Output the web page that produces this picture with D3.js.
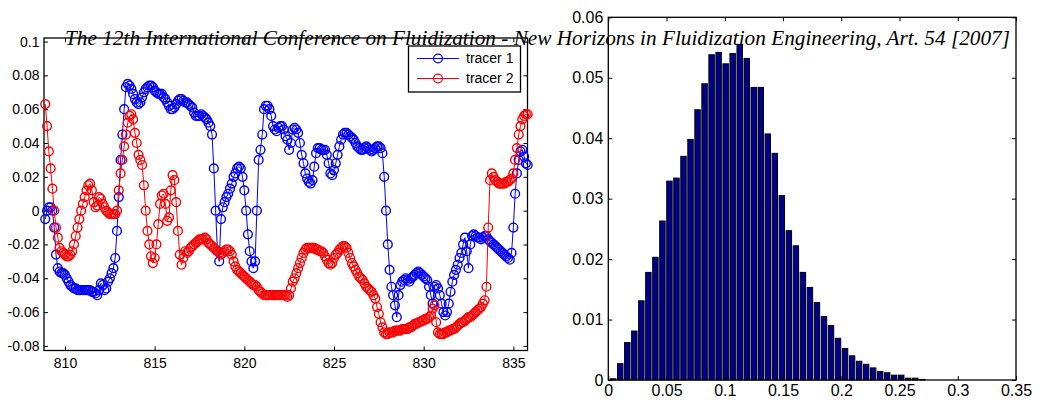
<!DOCTYPE html>
<html>
<head>
<meta charset="utf-8">
<script src="https://cdn.jsdelivr.net/npm/d3@7"></script>
<style>
  body { margin: 0; background: #fff; }
</style>
</head>
<body>
<svg id="chart" width="1037" height="402"></svg>
<script>
// sampled tracer positions, one value every dt seconds from t0
const t0 = 808.9, dt = 0.1;

const tracer1 = [
  -0.005,
  0.000, 0.002, 0.002, 0.000, -0.010, -0.026, -0.034, -0.036, -0.037, -0.037,
  -0.038, -0.040, -0.042, -0.044, -0.045, -0.046, -0.046, -0.047, -0.047, -0.047,
  -0.047, -0.047, -0.047, -0.047, -0.047, -0.048, -0.048, -0.049, -0.050, -0.047,
  -0.043, -0.044, -0.047, -0.046, -0.042, -0.040, -0.037, -0.034, -0.028, -0.012,
  0.008, 0.030, 0.045, 0.060, 0.073, 0.075, 0.074, 0.072, 0.069, 0.066,
  0.064, 0.063, 0.064, 0.067, 0.070, 0.072, 0.073, 0.074, 0.074, 0.073,
  0.071, 0.070, 0.069, 0.069, 0.069, 0.067, 0.066, 0.064, 0.062, 0.060,
  0.060, 0.061, 0.063, 0.065, 0.066, 0.066, 0.065, 0.064, 0.064, 0.063,
  0.062, 0.061, 0.058, 0.056, 0.056, 0.056, 0.057, 0.056, 0.055, 0.054,
  0.052, 0.050, 0.045, 0.025, 0.000, -0.024, -0.030, -0.005, 0.002, 0.005,
  0.008, 0.010, 0.013, 0.016, 0.020, 0.022, 0.025, 0.026, 0.025, 0.020,
  0.012, 0.000, -0.014, -0.024, -0.030, -0.034, -0.030, 0.000, 0.030, 0.036,
  0.045, 0.060, 0.062, 0.062, 0.060, 0.056, 0.050, 0.048, 0.047, 0.049,
  0.050, 0.050, 0.048, 0.044, 0.042, 0.036, 0.040, 0.048, 0.049, 0.048,
  0.046, 0.040, 0.033, 0.028, 0.022, 0.019, 0.017, 0.016, 0.018, 0.026,
  0.034, 0.037, 0.037, 0.036, 0.036, 0.036, 0.033, 0.028, 0.022, 0.021,
  0.024, 0.028, 0.033, 0.038, 0.042, 0.045, 0.046, 0.046, 0.045, 0.044,
  0.043, 0.042, 0.040, 0.038, 0.037, 0.036, 0.036, 0.037, 0.038, 0.037,
  0.036, 0.035, 0.036, 0.037, 0.038, 0.038, 0.037, 0.034, 0.020, 0.000,
  -0.020, -0.035, -0.045, -0.050, -0.056, -0.063, -0.050, -0.044, -0.042, -0.041,
  -0.040, -0.041, -0.042, -0.040, -0.039, -0.038, -0.037, -0.036, -0.037, -0.038,
  -0.039, -0.040, -0.041, -0.045, -0.050, -0.055, -0.045, -0.044, -0.046, -0.050,
  -0.055, -0.060, -0.062, -0.060, -0.055, -0.048, -0.042, -0.038, -0.035, -0.032,
  -0.028, -0.025, -0.020, -0.016, -0.024, -0.034, -0.020, -0.015, -0.014, -0.015,
  -0.016, -0.016, -0.017, -0.016, -0.015, -0.015, -0.017, -0.018, -0.019, -0.020,
  -0.021, -0.022, -0.023, -0.024, -0.025, -0.026, -0.027, -0.028, -0.029, -0.025,
  -0.010, 0.010, 0.022, 0.030, 0.035, 0.036, 0.032, 0.028, 0.027
];

const tracer2 = [
  0.063,
  0.050, 0.035, 0.025, 0.013, 0.000, -0.010, -0.016, -0.022, -0.024, -0.025,
  -0.026, -0.027, -0.027, -0.026, -0.024, -0.020, -0.015, -0.010, -0.005, 0.000,
  0.004, 0.008, 0.012, 0.015, 0.016, 0.012, 0.005, 0.002, 0.003, 0.008,
  0.007, 0.004, 0.002, 0.000, -0.001, -0.002, -0.002, -0.002, -0.002, 0.000,
  0.012, 0.022, 0.030, 0.038, 0.045, 0.052, 0.056, 0.057, 0.054, 0.046,
  0.040, 0.033, 0.030, 0.027, 0.015, 0.000, -0.012, -0.020, -0.027, -0.031,
  -0.028, -0.020, -0.008, 0.004, 0.009, 0.010, 0.004, -0.006, -0.004, 0.012,
  0.021, 0.018, 0.005, -0.012, -0.026, -0.032, -0.028, -0.024, -0.025, -0.024,
  -0.022, -0.021, -0.020, -0.019, -0.018, -0.017, -0.017, -0.017, -0.016, -0.017,
  -0.019, -0.020, -0.021, -0.022, -0.023, -0.024, -0.025, -0.026, -0.025, -0.024,
  -0.023, -0.023, -0.024, -0.026, -0.030, -0.033, -0.035, -0.036, -0.037, -0.038,
  -0.039, -0.040, -0.041, -0.042, -0.043, -0.044, -0.044, -0.045, -0.047, -0.048,
  -0.049, -0.050, -0.050, -0.050, -0.050, -0.050, -0.050, -0.050, -0.050, -0.050,
  -0.050, -0.050, -0.050, -0.050, -0.051, -0.050, -0.046, -0.042, -0.040, -0.037,
  -0.034, -0.031, -0.028, -0.025, -0.023, -0.022, -0.022, -0.022, -0.022, -0.022,
  -0.023, -0.023, -0.024, -0.024, -0.025, -0.027, -0.029, -0.031, -0.032, -0.031,
  -0.028, -0.026, -0.025, -0.023, -0.022, -0.021, -0.021, -0.022, -0.025, -0.028,
  -0.031, -0.033, -0.035, -0.037, -0.039, -0.040, -0.041, -0.043, -0.045, -0.046,
  -0.047, -0.048, -0.050, -0.052, -0.057, -0.061, -0.066, -0.069, -0.072, -0.073,
  -0.073, -0.072, -0.072, -0.072, -0.071, -0.071, -0.071, -0.071, -0.070, -0.070,
  -0.070, -0.070, -0.069, -0.069, -0.068, -0.067, -0.067, -0.066, -0.066, -0.065,
  -0.065, -0.064, -0.064, -0.063, -0.062, -0.058, -0.056, -0.066, -0.072, -0.073,
  -0.073, -0.073, -0.072, -0.072, -0.071, -0.071, -0.070, -0.070, -0.069, -0.068,
  -0.067, -0.066, -0.066, -0.065, -0.064, -0.063, -0.063, -0.062, -0.061, -0.060,
  -0.059, -0.058, -0.057, -0.055, -0.053, -0.045, -0.010, 0.018, 0.022, 0.020,
  0.018, 0.017, 0.016, 0.016, 0.016, 0.016, 0.017, 0.017, 0.018, 0.019,
  0.022, 0.030, 0.037, 0.045, 0.050, 0.054, 0.056, 0.057, 0.057
];

const seriesNames = ["tracer 1", "tracer 2"];
const timeTicks = [810, 815, 820, 825, 830, 835];
const posTicks = [0.1, 0.08, 0.06, 0.04, 0.02, 0, -0.02, -0.04, -0.06, -0.08];

// histogram: equal-width bins starting at binStart
const binStart = 0.0015, binWidth = 0.00603;
const binFreq = [
  0.0002, 0.0027, 0.0062, 0.0081, 0.0131, 0.0178, 0.0203, 0.0263, 0.0329, 0.0334,
  0.0370, 0.0398, 0.0447, 0.0490, 0.0538, 0.0542, 0.0523, 0.0540, 0.0555, 0.0532,
  0.0484, 0.0484, 0.0407, 0.0375, 0.0305, 0.0247, 0.0222, 0.0178, 0.0153, 0.0128,
  0.0105, 0.0090, 0.0069, 0.0052, 0.0040, 0.0031, 0.0026, 0.0020, 0.0014, 0.0012,
  0.0008, 0.0008, 0.0003, 0.0003, 0.0001
];
const histTicksX = [0, 0.05, 0.1, 0.15, 0.2, 0.25, 0.3, 0.35];
const histTicksY = [0, 0.01, 0.02, 0.03, 0.04, 0.05, 0.06];

const header = "The 12th International Conference on Fluidization - New Horizons in Fluidization Engineering, Art. 54 [2007]";

const svg = d3.select("#chart");
const sans = "'Liberation Sans', Arial, sans-serif";

// box with inward ticks on all four sides, labels on bottom and left
function drawFrame(g, xs, ys, xTicks, yTicks, fontSize, xPad, yPad) {
  const [xa, xb] = xs.range();
  const [ya, yb] = ys.range();
  const fmt = (d) => String(d);

  g.append("g")
    .attr("transform", "translate(0," + ya + ")")
    .call(d3.axisBottom(xs).tickValues(xTicks).tickSize(-4).tickPadding(xPad).tickFormat(fmt));
  g.append("g")
    .attr("transform", "translate(0," + yb + ")")
    .call(d3.axisTop(xs).tickValues(xTicks).tickSize(-4).tickFormat(""));
  g.append("g")
    .attr("transform", "translate(" + xa + ",0)")
    .call(d3.axisLeft(ys).tickValues(yTicks).tickSize(-4).tickPadding(yPad).tickFormat(fmt));
  g.append("g")
    .attr("transform", "translate(" + xb + ",0)")
    .call(d3.axisRight(ys).tickValues(yTicks).tickSize(-4).tickFormat(""));

  g.selectAll(".domain").remove();
  g.selectAll(".tick line").attr("stroke", "#000");
  g.selectAll(".tick text")
    .attr("fill", "#000")
    .style("font-family", sans)
    .style("font-size", fontSize + "px");

  g.append("rect")
    .attr("x", xa)
    .attr("y", yb)
    .attr("width", xb - xa)
    .attr("height", ya - yb)
    .attr("fill", "none")
    .attr("stroke", "#000")
    .attr("stroke-width", 1.3);
}

// ---------- left: tracer positions over time ----------
const x = d3.scaleLinear().domain([808.83, 835.79]).range([44, 527.5]);
const y = d3.scaleLinear().domain([-0.0827, 0.1021]).range([350.5, 38]);

const left = svg.append("g");
drawFrame(left, x, y, timeTicks, posTicks, 14, 8, 4.5);

const colors = ["#0000ff", "#ff0000"];
[tracer1, tracer2].forEach((vals, k) => {
  const pts = vals.map((v, i) => ({ t: t0 + i * dt, v: v }));
  const line = d3.line().x((d) => x(d.t)).y((d) => y(d.v));

  left.append("path")
    .datum(pts)
    .attr("d", line)
    .attr("fill", "none")
    .attr("stroke", colors[k])
    .attr("stroke-width", 1);

  left.append("g")
    .selectAll("circle")
    .data(pts)
    .join("circle")
    .attr("cx", (d) => x(d.t))
    .attr("cy", (d) => y(d.v))
    .attr("r", 4.4)
    .attr("fill", "none")
    .attr("stroke", colors[k])
    .attr("stroke-width", 1.4);
});

// legend
const legend = left.append("g");
legend.append("rect")
  .attr("x", 408.5)
  .attr("y", 46)
  .attr("width", 112)
  .attr("height", 46)
  .attr("fill", "#fff")
  .attr("stroke", "#000")
  .attr("stroke-width", 1.3);

seriesNames.forEach((name, k) => {
  const ly = 58.5 + k * 20;
  legend.append("line")
    .attr("x1", 417).attr("x2", 459)
    .attr("y1", ly).attr("y2", ly)
    .attr("stroke", colors[k]);
  legend.append("circle")
    .attr("cx", 438).attr("cy", ly).attr("r", 4.4)
    .attr("fill", "none")
    .attr("stroke", colors[k])
    .attr("stroke-width", 1.2);
  legend.append("text")
    .attr("x", 466)
    .attr("y", ly)
    .attr("dy", "0.35em")
    .style("font-family", sans)
    .style("font-size", "14px")
    .text(name);
});

// ---------- right: histogram ----------
const hx = d3.scaleLinear().domain([0, 0.35]).range([608.3, 1016]);
const hy = d3.scaleLinear().domain([0, 0.06]).range([380, 17.3]);

const right = svg.append("g");
const bins = binFreq.map((f, i) => ({
  x0: binStart + i * binWidth,
  x1: binStart + (i + 1) * binWidth,
  f: f,
}));

right.append("g")
  .selectAll("rect")
  .data(bins)
  .join("rect")
  .attr("x", (d) => hx(d.x0) + 0.5)
  .attr("width", (d) => hx(d.x1) - hx(d.x0) - 1.6)
  .attr("y", (d) => hy(d.f))
  .attr("height", (d) => hy(0) - hy(d.f))
  .attr("fill", "#00008f")
  .attr("stroke", "#000")
  .attr("stroke-width", 1);

drawFrame(right, hx, hy, histTicksX, histTicksY, 16, 5, 5);

// page header printed across both plots
svg.append("text")
  .attr("x", 65)
  .attr("y", 45)
  .attr("textLength", 945)
  .attr("lengthAdjust", "spacingAndGlyphs")
  .style("font-family", "'Liberation Serif', 'Times New Roman', serif")
  .style("font-style", "italic")
  .style("font-size", "22px")
  .attr("fill", "#000")
  .text(header);
</script>
</body>
</html>
